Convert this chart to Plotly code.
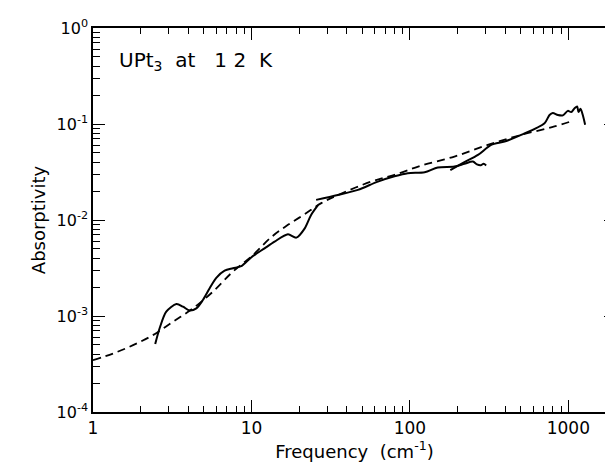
import plotly.graph_objects as go

# Solid measured segments (frequency in cm^-1, absorptivity)
seg1_x = [2.47, 2.63, 2.90, 3.36, 3.70, 4.07, 4.49, 4.94, 5.45, 6.0, 6.77, 7.64, 8.62, 10.0, 12.1, 14.0, 17.0, 19.2, 21.7, 23.8, 26.3]
seg1_y = [5.1e-4, 7.4e-4, 1.11e-3, 1.33e-3, 1.25e-3, 1.14e-3, 1.20e-3, 1.47e-3, 1.95e-3, 2.5e-3, 2.97e-3, 3.14e-3, 3.3e-3, 4.1e-3, 5.07e-3, 5.95e-3, 7.1e-3, 6.55e-3, 8.19e-3, 1.13e-2, 1.43e-2]

seg2_x = [25.6, 35.1, 47.0, 62.8, 80.0, 97.0, 124, 150, 191, 221, 250, 265, 280, 292, 303]
seg2_y = [1.62e-2, 1.82e-2, 2.06e-2, 2.51e-2, 2.85e-2, 3.07e-2, 3.14e-2, 3.52e-2, 3.6e-2, 3.85e-2, 4.06e-2, 3.8e-2, 3.72e-2, 3.85e-2, 3.7e-2]

seg3_x = [180, 221, 269, 326, 396, 504, 708, 761, 798, 859, 923, 993, 1042, 1095, 1137, 1160, 1194, 1234, 1277]
seg3_y = [3.3e-2, 4.0e-2, 4.76e-2, 6.05e-2, 6.57e-2, 7.7e-2, 0.102, 0.124, 0.130, 0.124, 0.123, 0.137, 0.133, 0.146, 0.152, 0.133, 0.144, 0.124, 0.098]

# Dashed fit curve
fit_x = [1.0, 1.34, 1.79, 2.39, 3.20, 4.27, 5.71, 7.64, 10.2, 13.3, 17.0, 21.7, 27.6, 35.1, 57.0, 80.0, 118, 191, 310, 504, 818, 1032]
fit_y = [3.47e-4, 4.07e-4, 4.97e-4, 6.32e-4, 8.72e-4, 1.20e-3, 1.79e-3, 2.9e-3, 4.3e-3, 6.6e-3, 8.9e-3, 1.15e-2, 1.5e-2, 1.82e-2, 2.51e-2, 2.95e-2, 3.69e-2, 4.58e-2, 6.05e-2, 7.7e-2, 9.42e-2, 0.106]

x_major = [1, 10, 100, 1000]
x_major_text = ["1", "10", "100", "1000"]
y_major = [1e-4, 1e-3, 1e-2, 1e-1, 1]
y_major_text = ["10<sup>-4</sup>", "10<sup>-3</sup>", "10<sup>-2</sup>", "10<sup>-1</sup>", "10<sup>0</sup>"]

x_minor = [m * d for d in [1, 10, 100, 1000] for m in range(2, 10) if m * d <= 2000]
y_minor = [m * d for d in [1e-4, 1e-3, 1e-2, 1e-1] for m in range(2, 10)]

FONT = "DejaVu Sans"
fig = go.Figure()

solid = dict(color="black", width=2)
for sx, sy in [(seg1_x, seg1_y), (seg2_x, seg2_y), (seg3_x, seg3_y)]:
    fig.add_trace(go.Scatter(x=sx, y=sy, mode="lines", line=dict(shape="spline", smoothing=0.8, **solid),
                             showlegend=False, hoverinfo="skip"))

fig.add_trace(go.Scatter(x=fit_x, y=fit_y, mode="lines",
                         line=dict(color="black", width=1.8, dash="8px,5px", shape="spline", smoothing=1.0),
                         showlegend=False, hoverinfo="skip"))

fig.add_annotation(text="UPt<sub>3</sub>\u00a0\u00a0at\u00a0\u00a0\u00a01\u00a02\u00a0\u00a0K", xref="paper", yref="paper",
                   x=0.046, y=0.915, xanchor="left", yanchor="middle", showarrow=False,
                   font=dict(family=FONT, size=20, color="black"))

axis_common = dict(showgrid=False, zeroline=False, showline=True, linecolor="black", linewidth=1.5,
                   mirror="ticks", ticks="inside", tickcolor="black", tickwidth=1.3, ticklen=12,
                   automargin=False)

fig.update_xaxes(type="log", range=[0, 3.301], tickmode="array", tickvals=x_major, ticktext=x_major_text,
                 tickfont=dict(family=FONT, size=17, color="black"),
                 minor=dict(tickmode="array", tickvals=x_minor, ticks="inside", ticklen=6,
                            tickcolor="black", tickwidth=1.2, showgrid=False),
                 title=dict(text="Frequency\u00a0\u00a0(cm<sup>-1</sup>)", font=dict(family=FONT, size=18, color="black"), standoff=6),
                 **axis_common)
fig.update_yaxes(type="log", range=[-4, 0], tickmode="array", tickvals=y_major, ticktext=y_major_text,
                 tickfont=dict(family=FONT, size=16, color="black"),
                 minor=dict(tickmode="array", tickvals=y_minor, ticks="inside", ticklen=7,
                            tickcolor="black", tickwidth=1.2, showgrid=False),
                 title=dict(text="Absorptivity", font=dict(family=FONT, size=18, color="black"), standoff=6),
                 **axis_common)

fig.update_layout(width=613, height=462, margin=dict(l=85, r=5, t=20, b=58),
                  plot_bgcolor="white", paper_bgcolor="white", showlegend=False)

fig.write_html("out.html")
